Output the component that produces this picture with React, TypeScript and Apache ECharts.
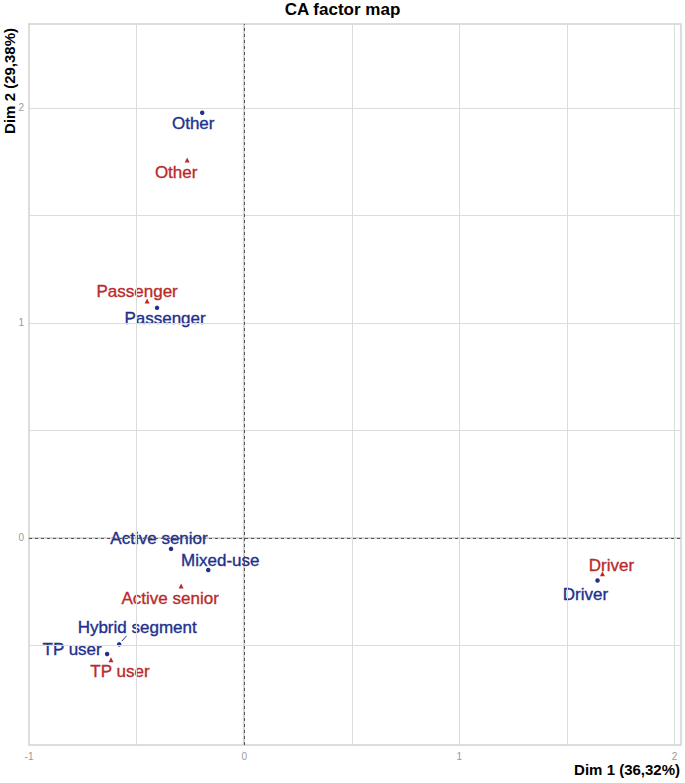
import React, { useEffect, useRef } from "react";
import * as echarts from "echarts";

// ---- Data ----
const rowNames = ["Other", "Passenger", "Active senior", "Mixed-use", "Hybrid segment", "TP user", "Driver"];
const rowDim1 = [-0.195, -0.405, -0.34, -0.167, -0.581, -0.637, 1.642];
const rowDim2 = [1.977, 1.07, -0.051, -0.149, -0.495, -0.54, -0.198];

const colNames = ["Other", "Passenger", "Active senior", "TP user", "Driver"];
const colDim1 = [-0.265, -0.451, -0.293, -0.619, 1.665];
const colDim2 = [1.758, 1.102, -0.223, -0.567, -0.167];

const xTickLabels = [-1, 0, 1, 2];
const yTickLabels = [0, 1, 2];
const xGridValues = [-0.5, 0.5, 1, 1.5, 2];
const yGridValues = [-0.5, 0.5, 1, 1.5, 2];

// ---- Layout / style ----
const rowLabelOffsets = [[-9, 11], [8, 11], [-12, -10], [12, -9], [18, -17], [-35, -5], [-12, 14]];
const colLabelOffsets = [[-11, 13], [-10, -9], [-11, 13], [9, 12], [9, -8]];
const BLUE = "#22308c";
const RED = "#ba2a2b";
const FONT = "Liberation Sans, Arial, sans-serif";

export default function App() {
  const ref = useRef<HTMLDivElement>(null);
  useEffect(() => {
    if (!ref.current) return;
    const chart = echarts.init(ref.current, undefined, { renderer: "svg" });

    const hybridIdx = rowNames.indexOf("Hybrid segment");
    const hx = rowDim1[hybridIdx];
    const hy = rowDim2[hybridIdx];

    const labelStyle = (color: string) => ({
      show: true,
      position: "inside",
      formatter: (p: any) => p.name,
      color,
      opacity: 1,
      textBorderColor: color,
      textBorderWidth: 0.35,
      fontSize: 17,
      fontFamily: FONT,
      align: "center",
      verticalAlign: "middle",
    });

    const option: any = {
      animation: false,
      backgroundColor: "#ffffff",
      textStyle: { fontFamily: FONT },
      title: {
        text: "CA factor map",
        left: "center",
        top: 0,
        padding: [1, 5, 5, 5],
        textStyle: { fontSize: 17, fontWeight: "bold", color: "#000", fontFamily: FONT },
      },
      grid: {
        left: 29,
        right: 4,
        top: 24,
        bottom: 38,
        show: true,
        borderColor: "#d2d2d2",
        borderWidth: 1.5,
      },
      xAxis: {
        type: "value",
        min: -1,
        max: 2.03,
        interval: 0.5,
        axisLine: { show: true, lineStyle: { color: "#c8c8c8", width: 1.5 } },
        axisTick: { show: false },
        splitLine: { show: false },
        axisLabel: {
          color: "#9a9a9a",
          fontSize: 10,
          margin: 6,
          formatter: (v: number) => (xTickLabels.includes(v) ? String(v) : ""),
        },
      },
      yAxis: {
        type: "value",
        min: -0.963,
        max: 2.39,
        axisLine: { show: true, lineStyle: { color: "#c8c8c8", width: 1.5 } },
        axisTick: { show: false },
        splitLine: { show: false },
        axisLabel: {
          color: "#9a9a9a",
          fontSize: 10,
          margin: 5,
          customValues: yTickLabels,
          formatter: (v: number) => String(v),
        },
      },
      graphic: [
        {
          type: "text",
          right: 5,
          top: 762,
          style: { text: "Dim 1 (36,32%)", font: `bold 15px ${FONT}`, fill: "#000" },
        },
        {
          type: "text",
          left: 2,
          top: 28,
          rotation: Math.PI / 2,
          originX: 0,
          originY: 0,
          style: { text: "Dim 2 (29,38%)", font: `bold 15px ${FONT}`, fill: "#000" },
        },
      ],
      series: [
        {
          type: "scatter",
          data: [],
          z: 1,
          silent: true,
          markLine: {
            silent: true,
            symbol: "none",
            label: { show: false },
            lineStyle: { color: "#dcdcdc", width: 1, type: "solid" },
            data: [
              ...xGridValues.map((v) => ({ xAxis: v })),
              ...yGridValues.map((v) => ({ yAxis: v })),
            ],
          },
        },
        {
          type: "scatter",
          data: [],
          z: 1,
          silent: true,
          markLine: {
            silent: true,
            symbol: "none",
            label: { show: false },
            lineStyle: { color: "#555", width: 1, type: [3, 3] },
            data: [{ xAxis: 0 }, { yAxis: 0 }],
          },
        },
        {
          type: "line",
          silent: true,
          symbol: "none",
          z: 2,
          lineStyle: { color: BLUE, width: 1 },
          data: [
            [hx + 0.012, hy + 0.015],
            [hx + 0.035, hy + 0.04],
          ],
        },
        {
          type: "scatter",
          name: "rows",
          symbol: "circle",
          symbolSize: 4.5,
          z: 3,
          itemStyle: { color: BLUE, opacity: 1 },
          data: rowNames.map((n, i) => ({
            value: [rowDim1[i], rowDim2[i]],
            name: n,
            label: { offset: rowLabelOffsets[i] },
          })),
          label: labelStyle(BLUE),
        },
        {
          type: "scatter",
          name: "cols",
          symbol: "triangle",
          symbolSize: 5,
          z: 3,
          itemStyle: { color: RED, opacity: 1 },
          data: colNames.map((n, i) => ({
            value: [colDim1[i], colDim2[i]],
            name: n,
            label: { offset: colLabelOffsets[i] },
          })),
          label: labelStyle(RED),
        },
      ],
    };
    chart.setOption(option);
    return () => chart.dispose();
  }, []);
  return (
    <div
      ref={ref}
      style={{ position: "fixed", left: 0, top: 0, width: 685, height: 783, background: "#fff" }}
    />
  );
}
